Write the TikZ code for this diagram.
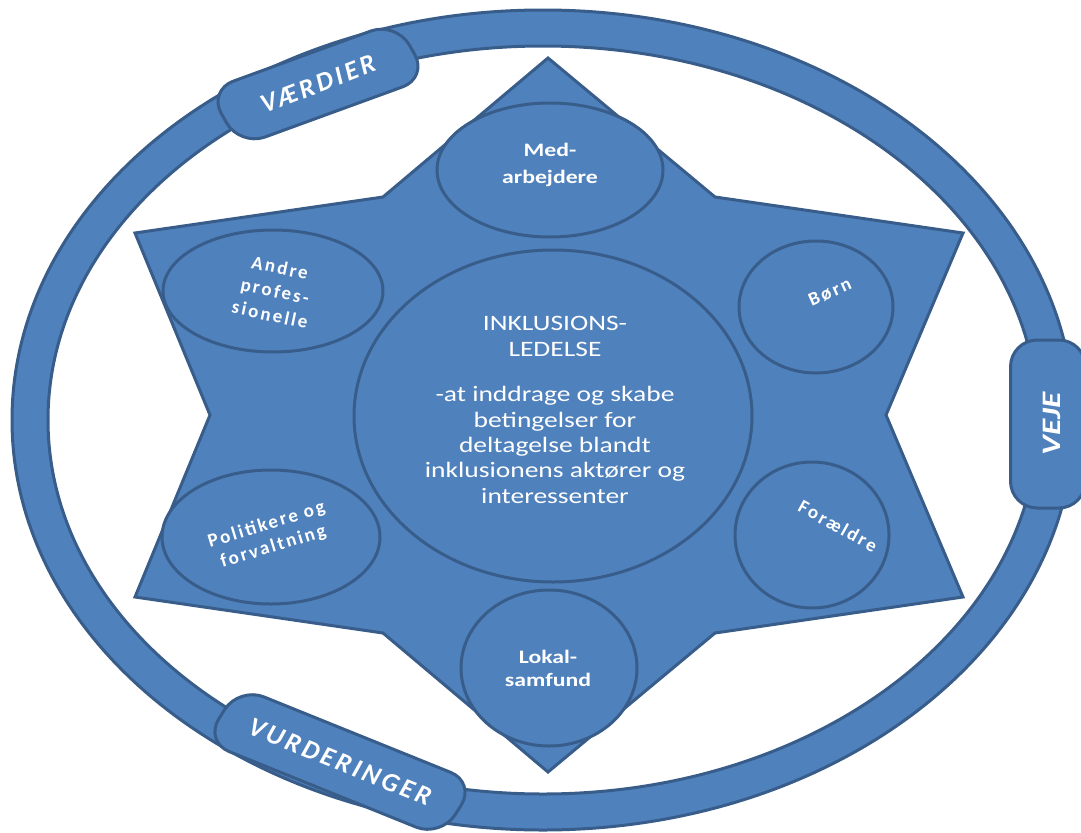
\documentclass[tikz,border=0pt]{standalone}
\usepackage{fontspec}
\setmainfont{Carlito}
\usetikzlibrary{shapes.geometric}
\definecolor{bfill}{RGB}{79,129,189}
\definecolor{bline}{RGB}{56,93,138}
\begin{document}
\begin{tikzpicture}[x=0.75pt,y=-0.75pt,
  shp/.style={fill=bfill,draw=bline,line width=2.25pt},
  oval/.style={shp,ellipse,inner sep=0pt},
  lbl/.style={text=white,align=center,inner sep=0pt,font=\bfseries\fontsize{14.25pt}{17.25pt}\selectfont},
  rlbl/.style={text=white,align=center,inner sep=0pt,font=\bfseries\fontsize{14.25pt}{17.25pt}\selectfont\addfontfeature{LetterSpace=12}},
  ctext/.style={text=white,align=center,inner sep=0pt,xscale=1.25,font=\fontsize{16.5pt}{19.1pt}\selectfont},
  tag/.style={shp,rounded corners=20pt,inner sep=0pt},
  tagtxt/.style={text=white,inner sep=0pt,font=\bfseries\itshape\fontsize{20pt}{24pt}\selectfont}]
\useasboundingbox (0,0) rectangle (1081,832);
% ring
\path[shp,even odd rule] (543,420) ellipse [x radius=531,y radius=410]
  (543,420) ellipse [x radius=495,y radius=374];
% tags on the ring
\node[tag,minimum width=124pt,minimum height=46pt,xscale=1.25,rotate=24.5] (vaerdier) at (318,84) {};
\node[tagtxt,rotate=21] (tvaerdier) at (vaerdier.center) {\addfontfeature{LetterSpace=12}VÆRDIER};
\node[tag,minimum width=159pt,minimum height=46pt,xscale=1.25,rotate=-26.8] (vurderinger) at (340,762) {};
\node[tagtxt,rotate=-22] (tvurderinger) at (vurderinger.center) {\addfontfeature{LetterSpace=12}VURDERINGER};
\node[tag,minimum width=126pt,minimum height=45pt,xscale=1.25,rotate=90] (veje) at (1048,424) {};
\node[tagtxt,rotate=90,xscale=1.25] (tveje) at (1052,424) {VEJE};
% star
\path[shp,line join=miter] (548,58) -- (715,197) -- (963,233) -- (886,415) -- (963,597) -- (715,633)
  -- (548,772) -- (383,633) -- (135,597) -- (210,415) -- (135,233) -- (383,197) -- cycle;
% ovals
\node[oval,minimum width=169.5pt,minimum height=100.5pt] (med) at (550,170) {};
\node[oval,minimum width=165pt,minimum height=91.5pt] (andre) at (273,291) {};
\node[oval,minimum width=115.5pt,minimum height=99pt] (born) at (816,307) {};
\node[oval,minimum width=115.5pt,minimum height=109.5pt] (foraeldre) at (812,535) {};
\node[oval,minimum width=163.5pt,minimum height=100.5pt] (politik) at (271,537) {};
\node[oval,minimum width=132pt,minimum height=117pt] (lokal) at (549,668) {};
\node[oval,minimum width=298.5pt,minimum height=249pt] (center) at (553,416) {};
% texts
\node[ctext] (tcenter) at (555,410) {INKLUSIONS-\\LEDELSE\\[15pt]-at inddrage og skabe\\betingelser for\\deltagelse blandt\\inklusionens aktører og\\interessenter};
\node[lbl,xscale=1.25,font=\bfseries\fontsize{14.25pt}{20pt}\selectfont] (tmed) at (550,165) {Med-\\arbejdere};
\node[lbl,xscale=1.25] (tlokal) at (548,668) {Lokal-\\samfund};
\node[rlbl,rotate=-12,font=\bfseries\fontsize{14.25pt}{18pt}\selectfont\addfontfeature{LetterSpace=12}] (tandre) at (275,291) {Andre\\profes-\\sionelle};
\node[rlbl,rotate=24] (tborn) at (830,292) {Børn};
\node[rlbl,rotate=-29] (tforaeldre) at (838,526) {Forældre};
\node[rlbl,rotate=17] (tpolitik) at (270,536) {Politikere og\\forvaltning};
\end{tikzpicture}
\end{document}
